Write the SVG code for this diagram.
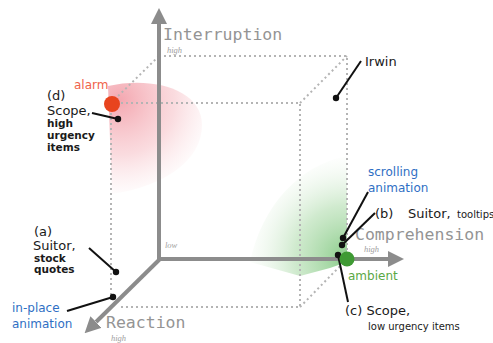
<svg xmlns="http://www.w3.org/2000/svg" width="493" height="343" viewBox="0 0 493 343">
<style>
.ax{stroke:#8c8c8c;stroke-width:4;fill:none}
.dot{stroke:#b4b4b4;stroke-width:2;stroke-dasharray:2 3;fill:none}
.mono{font-family:"DejaVu Sans Mono",monospace;font-size:16.5px;fill:#949494}
.it{font-family:"Liberation Serif",serif;font-style:italic;font-size:8.5px;fill:#a0a0a0}
.t{font-family:"DejaVu Sans",sans-serif;font-size:13px;fill:#1a1a1a}
.s{font-family:"DejaVu Sans",sans-serif;font-size:10px;fill:#1a1a1a}
.sb{font-family:"DejaVu Sans",sans-serif;font-size:10.5px;font-weight:bold;fill:#1a1a1a}
.blue{font-family:"DejaVu Sans",sans-serif;font-size:12px;fill:#2f6fc4}
.lead{stroke:#111;stroke-width:2;fill:none}
.ld{fill:#111}
</style>
<defs>
<marker id="ah" markerUnits="userSpaceOnUse" markerWidth="16" markerHeight="16" refX="0" refY="8" orient="auto">
<path d="M0,0 L16,8 L0,16 z" fill="#8c8c8c"/>
</marker>
<radialGradient id="pink" cx="120" cy="100" r="100" gradientUnits="userSpaceOnUse">
<stop offset="0" stop-color="#f08a96" stop-opacity="0.75"/>
<stop offset="0.55" stop-color="#f4b0b8" stop-opacity="0.45"/>
<stop offset="1" stop-color="#f8d0d4" stop-opacity="0"/>
</radialGradient>
<radialGradient id="green" cx="347" cy="258" r="105" gradientUnits="userSpaceOnUse">
<stop offset="0" stop-color="#6cbf6c" stop-opacity="0.8"/>
<stop offset="0.5" stop-color="#a9d9a6" stop-opacity="0.55"/>
<stop offset="1" stop-color="#e0f0de" stop-opacity="0"/>
</radialGradient>
</defs>
<rect width="493" height="343" fill="#ffffff"/>
<g id="blobs">
<path d="M108,86 C150,76 202,88 202,125 C202,160 165,186 112,194 Z" fill="url(#pink)"/>
<path d="M347,156 C300,165 262,205 250,262 L300,276 L330,268 L347,262 Z" fill="url(#green)"/>
</g>
<g id="cube">
<path class="dot" d="M159,56 H347 V259"/>
<path class="dot" d="M111,103 H300 V307 H120"/>
<path class="dot" d="M111,103 V302"/>
<path class="dot" d="M111,103 L159,56 M300,103 L347,56 M300,307 L347,259"/>
</g>
<g id="axes">
<line class="ax" x1="159" y1="259" x2="159" y2="24" marker-end="url(#ah)"/>
<line class="ax" x1="157" y1="259" x2="388" y2="259" marker-end="url(#ah)"/>
<line class="ax" x1="160" y1="259" x2="96" y2="322" marker-end="url(#ah)"/>
<text class="mono" x="163" y="40">Interruption</text>
<text class="it" x="167" y="53">high</text>
<text class="mono" x="355" y="240">Comprehension</text>
<text class="it" x="364" y="252">high</text>
<text class="mono" x="106" y="328">Reaction</text>
<text class="it" x="111" y="341">high</text>
<text class="it" x="165" y="248">low</text>
</g>
<g id="connectors">
<line class="lead" x1="92" y1="113" x2="118" y2="119"/>
<circle class="ld" cx="118" cy="119" r="3.2"/>
<line class="lead" x1="361" y1="61" x2="336" y2="98"/>
<circle class="ld" cx="336" cy="98" r="3.2"/>
<line class="lead" x1="368" y1="192" x2="343" y2="238"/>
<circle class="ld" cx="343" cy="238" r="3.2"/>
<line class="lead" x1="375" y1="213" x2="342" y2="245"/>
<circle class="ld" cx="342" cy="245" r="3.2"/>
<line class="lead" x1="338" y1="255" x2="348" y2="302"/>
<circle class="ld" cx="338" cy="255" r="3.2"/>
<line class="lead" x1="89" y1="248" x2="116" y2="272"/>
<circle class="ld" cx="116" cy="272" r="3.2"/>
<line class="lead" x1="67" y1="311" x2="113" y2="297"/>
<circle class="ld" cx="113" cy="297" r="3.2"/>
</g>
<g id="alarm">
<circle cx="112" cy="104" r="8" fill="#e8441e"/>
<text x="74" y="89" font-family="DejaVu Sans, sans-serif" font-size="12" fill="#f0624a">alarm</text>
</g>
<g id="label-d">
<text class="t" x="47" y="100">(d)</text>
<text class="t" x="47" y="115">Scope,</text>
<text class="sb" x="47" y="127">high</text>
<text class="sb" x="47" y="139">urgency</text>
<text class="sb" x="47" y="151">items</text>
</g>
<g id="irwin">
<text class="t" x="365" y="66">Irwin</text>
</g>
<g id="scrolling">
<text class="blue" x="368" y="176">scrolling</text>
<text class="blue" x="368" y="192">animation</text>
</g>
<g id="label-b">
<text class="t" x="375" y="218">(b)</text>
<text class="t" x="408" y="218">Suitor,</text>
<text class="s" x="457" y="218">tooltips</text>
</g>
<g id="ambient">
<circle cx="347" cy="259" r="7.5" fill="#3f9a34"/>
<text x="348" y="280" font-family="DejaVu Sans, sans-serif" font-size="12" fill="#5aa845">ambient</text>
</g>
<g id="label-c">
<text class="t" x="345" y="315">(c) Scope,</text>
<text class="s" x="368" y="330">low urgency items</text>
</g>
<g id="label-a">
<text class="t" x="34" y="236">(a)</text>
<text class="t" x="33" y="250">Suitor,</text>
<text class="sb" x="34" y="262">stock</text>
<text class="sb" x="34" y="273">quotes</text>
</g>
<g id="in-place">
<text class="blue" x="12" y="312">in-place</text>
<text class="blue" x="12" y="328">animation</text>
</g>
</svg>
